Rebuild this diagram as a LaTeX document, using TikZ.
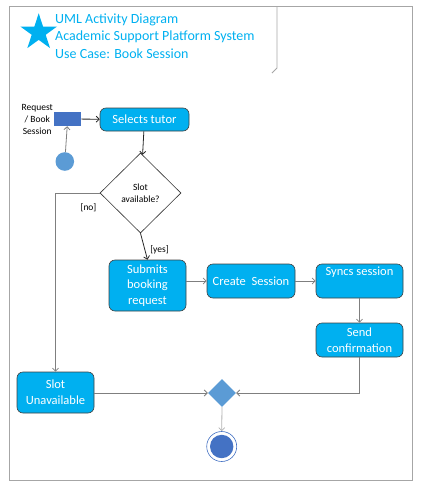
\documentclass[tikz,border=0pt]{standalone}
\usepackage{fontspec}
\setmainfont{Carlito}
\usetikzlibrary{shapes.geometric,arrows.meta}
\definecolor{boxblue}{HTML}{00B0F0}
\definecolor{objblue}{HTML}{4472C4}
\definecolor{lightblue}{HTML}{5B9BD5}
\definecolor{frameg}{HTML}{A6A6A6}
\definecolor{lineg}{HTML}{7F7F7F}
\begin{document}
\begin{tikzpicture}[x=1pt,y=-1pt,
  actbox/.style={draw=black!75,line width=0.6pt,fill=boxblue,rounded corners=6pt,
    text=white,font=\fontsize{12.5}{15.7}\selectfont,align=center,inner sep=0pt},
  flow/.style={draw=lineg,line width=0.8pt,-{Straight Barb[length=3pt,width=6pt]}},
  darkflow/.style={flow,draw=black!85},
  small/.style={font=\fontsize{9.5}{12}\selectfont,inner sep=0pt}]
\useasboundingbox (0,0) rectangle (425,493);
% frame
\draw[frameg,line width=0.8pt] (9,6) rectangle (412,480);
\draw[frameg,line width=0.8pt] (277,6) -- (277,68) -- (272,73);
% header
\node[star,star points=5,star point ratio=2.618,minimum size=38.5pt,inner sep=0pt,fill=boxblue] (logo) at (38.7,32.5) {};
\node[anchor=west,align=left,text=boxblue,font=\fontsize{14}{17.3}\selectfont,inner sep=0pt] (title) at (55,36)
  {UML Activity Diagram\\Academic Support Platform System\\Use Case: Book Session};
% object and initial
\node[fill=objblue,minimum width=27pt,minimum height=14pt,inner sep=0pt] (obj) at (67.7,119) {};
\node[align=center,anchor=east,font=\fontsize{9.5}{12}\selectfont,inner sep=0pt] (objlbl) at (53,119) {Request\\/ Book\\Session};
\node[circle,fill=lightblue,minimum size=18.6pt,inner sep=0pt] (init) at (64.8,161.5) {};
% activities
\node[actbox,minimum width=89pt,minimum height=23pt] (sel) at (144.5,119.5) {Selects tutor};
\node[diamond,draw=black!80,line width=0.6pt,fill=white,minimum width=81pt,minimum height=80pt,inner sep=0pt,
  align=center,font=\fontsize{9.5}{11.5}\selectfont] (dec) at (140.5,193) {Slot\\available?};
\node[actbox,minimum width=77pt,minimum height=51pt] (sub) at (147.5,285.5) {Submits\\booking\\request};
\node[actbox,minimum width=88pt,minimum height=34pt] (cre) at (251,281) {Create\ \ Session};
\node[actbox,minimum width=87pt,minimum height=34pt,
  label={[anchor=north,text=white,font=\fontsize{12.5}{15.7}\selectfont,inner sep=0pt,yshift=-3pt]north:Syncs session}] (syn) at (359.5,281) {};
\node[actbox,minimum width=87pt,minimum height=34pt] (snd) at (359.5,340) {Send\\confirmation};
\node[actbox,minimum width=77pt,minimum height=41pt] (una) at (55.5,392.5) {Slot\\Unavailable};
\node[diamond,fill=lightblue,minimum width=28pt,minimum height=28pt,inner sep=0pt] (mrg) at (222,393) {};
\node[circle,draw=objblue,line width=0.6pt,fill=white,minimum size=30pt,inner sep=0pt] (fin) at (221.7,446.5) {};
\fill[objblue] (fin.center) circle (11.7pt);
% connectors
\draw[flow] (init) -- (obj);
\draw[darkflow] (obj) -- (sel);
\draw[darkflow] (sel) -- (dec);
\draw[flow] (dec.west) -| (una.north);
\node[small] (nolbl) at (88.5,208) {[no]};
\draw[darkflow] (dec.south) -- (sub.north);
\node[small] (yeslbl) at (159.5,250) {[yes]};
\draw[flow] (sub.east |- cre) -- (cre.west);
\draw[flow] (cre) -- (syn);
\draw[flow] (syn) -- (snd);
\draw[flow] (una.east |- mrg) -- (mrg.west);
\draw[flow] (snd.south) |- (mrg.east);
\draw[flow,draw=black!30] (mrg.south) -- (fin.north);
\end{tikzpicture}
\end{document}
